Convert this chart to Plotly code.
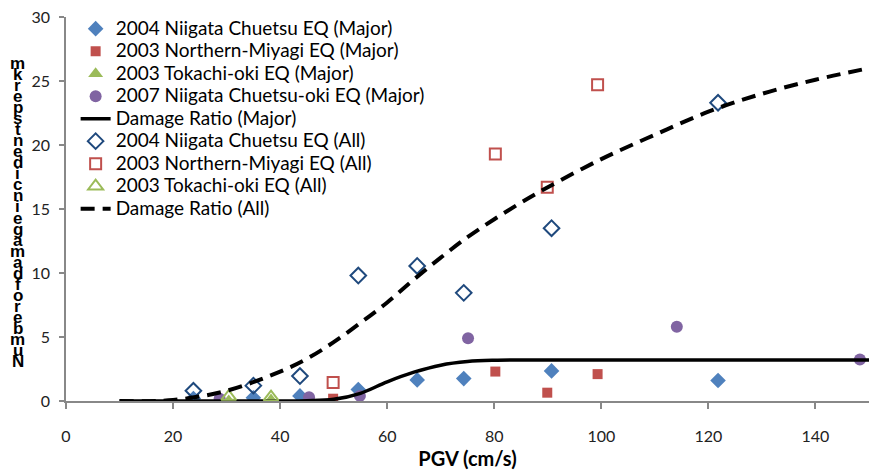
import plotly.graph_objects as go

# PGV (cm/s) and damage incidents per km, by earthquake
pgv_niigata04 = [23.8, 35.0, 43.7, 54.6, 65.6, 74.3, 90.7, 121.8]
major_niigata04 = [0.2, 0.25, 0.4, 0.9, 1.65, 1.75, 2.35, 1.6]
all_niigata04 = [0.8, 1.2, 1.95, 9.8, 10.55, 8.45, 13.5, 23.3]

pgv_miyagi03 = [49.9, 80.2, 89.9, 99.3]
major_miyagi03 = [0.18, 2.3, 0.65, 2.1]
all_miyagi03 = [1.45, 19.3, 16.7, 24.7]

pgv_tokachi03 = [30.4, 38.3]
major_tokachi03 = [0.0, 0.08]
all_tokachi03 = [0.35, 0.3]

pgv_chuetsuoki07 = [28.7, 45.4, 54.9, 75.1, 114.1, 148.3]
major_chuetsuoki07 = [0.18, 0.3, 0.4, 4.9, 5.8, 3.25]

# Damage ratio curves
curve_pgv = [10, 20, 30, 40, 45, 50, 55, 60, 65, 70, 75, 80, 85, 90,
             100, 110, 120, 130, 140, 150]
ratio_major = [0, 0, 0, 0, 0.02, 0.13, 0.6, 1.5, 2.25, 2.8, 3.08, 3.18,
               3.2, 3.2, 3.2, 3.2, 3.2, 3.2, 3.2, 3.2]
ratio_all = [0, 0.08, 0.8, 2.3, 3.3, 4.6, 6.1, 7.7, 9.5, 11.2, 12.8, 14.2,
             15.5, 16.7, 18.9, 20.8, 22.6, 24.0, 25.1, 26.0]

x_ticks = [0, 20, 40, 60, 80, 100, 120, 140]
y_ticks = [0, 5, 10, 15, 20, 25, 30]
y_title = "Number of damage incidents per km"

BLUE = "#4F81BD"
DARK_BLUE = "#1F497D"
RED = "#C0504D"
GREEN = "#9BBB59"
PURPLE = "#8064A2"


def entry(label):
    # legend labels are set a little larger than the row pitch
    return f'<span style="font-size:19px">{label}</span>'


fig = go.Figure()

fig.add_trace(go.Scatter(x=pgv_niigata04, y=major_niigata04, mode="markers",
                         name=entry("2004 Niigata Chuetsu EQ (Major)"),
                         marker=dict(symbol="diamond", size=12, color=BLUE)))
fig.add_trace(go.Scatter(x=pgv_miyagi03, y=major_miyagi03, mode="markers",
                         name=entry("2003 Northern-Miyagi EQ (Major)"),
                         marker=dict(symbol="square", size=10, color=RED)))
fig.add_trace(go.Scatter(x=pgv_tokachi03, y=major_tokachi03, mode="markers",
                         name=entry("2003 Tokachi-oki EQ (Major)"),
                         marker=dict(symbol="triangle-up", size=13, color=GREEN)))
fig.add_trace(go.Scatter(x=pgv_chuetsuoki07, y=major_chuetsuoki07, mode="markers",
                         name=entry("2007 Niigata Chuetsu-oki EQ (Major)"),
                         marker=dict(symbol="circle", size=12, color=PURPLE)))
fig.add_trace(go.Scatter(x=curve_pgv, y=ratio_major, mode="lines",
                         name=entry("Damage Ratio (Major)"),
                         line=dict(color="black", width=3.5, shape="spline")))
fig.add_trace(go.Scatter(x=pgv_niigata04, y=all_niigata04, mode="markers",
                         name=entry("2004 Niigata Chuetsu EQ (All)"),
                         marker=dict(symbol="diamond-open", size=12,
                                     color=DARK_BLUE, line=dict(width=2))))
fig.add_trace(go.Scatter(x=pgv_miyagi03, y=all_miyagi03, mode="markers",
                         name=entry("2003 Northern-Miyagi EQ (All)"),
                         marker=dict(symbol="square-open", size=11,
                                     color=RED, line=dict(width=2))))
fig.add_trace(go.Scatter(x=pgv_tokachi03, y=all_tokachi03, mode="markers",
                         name=entry("2003 Tokachi-oki EQ (All)"),
                         marker=dict(symbol="triangle-up-open", size=13,
                                     color=GREEN, line=dict(width=2))))
fig.add_trace(go.Scatter(x=curve_pgv, y=ratio_all, mode="lines",
                         name=entry("Damage Ratio (All)"),
                         line=dict(color="black", width=4, shape="spline",
                                   dash="14px,8px")))

# Y-axis title drawn as a column of upright letters, read bottom to top
letters = [c for c in y_title if c != " "]
y_bottom, y_top = 0.1016, 0.880
step = (y_top - y_bottom) / (len(letters) - 1)
annotations = []
for i, ch in enumerate(letters):
    annotations.append(dict(
        text=ch, xref="paper", yref="paper", x=-0.06, y=y_bottom + i * step,
        xanchor="center", yanchor="middle", showarrow=False,
        font=dict(family="Liberation Sans", size=17, color="black", weight="bold"),
    ))

axis_font = dict(family="Lato", size=16, color="#222222")

fig.update_layout(
    width=872, height=474,
    margin=dict(l=66, r=3, t=17, b=73),
    paper_bgcolor="white", plot_bgcolor="white",
    showlegend=True,
    legend=dict(x=0.012, y=1.012, xanchor="left", yanchor="top",
                bgcolor="rgba(0,0,0,0)", font=dict(family="Lato", size=15, color="black"),
                tracegroupgap=0, itemwidth=30),
    annotations=annotations,
    xaxis=dict(range=[0, 150], tickvals=x_ticks, showgrid=False, zeroline=False,
               showline=True, linecolor="#888888", linewidth=1.5,
               ticks="outside", ticklen=6, tickcolor="#888888", tickwidth=1.5,
               tickfont=axis_font, ticklabelstandoff=14,
               title=dict(text="<b>PGV (cm/s)</b>",
                          font=dict(family="Lato", size=20, color="black"),
                          standoff=8)),
    yaxis=dict(range=[0, 30], tickvals=y_ticks, showgrid=False, zeroline=False,
               showline=True, linecolor="#888888", linewidth=1.5,
               ticks="outside", ticklen=5, tickcolor="#888888", tickwidth=1.5,
               tickfont=axis_font, ticklabelstandoff=6),
)

fig.write_html("out.html")
